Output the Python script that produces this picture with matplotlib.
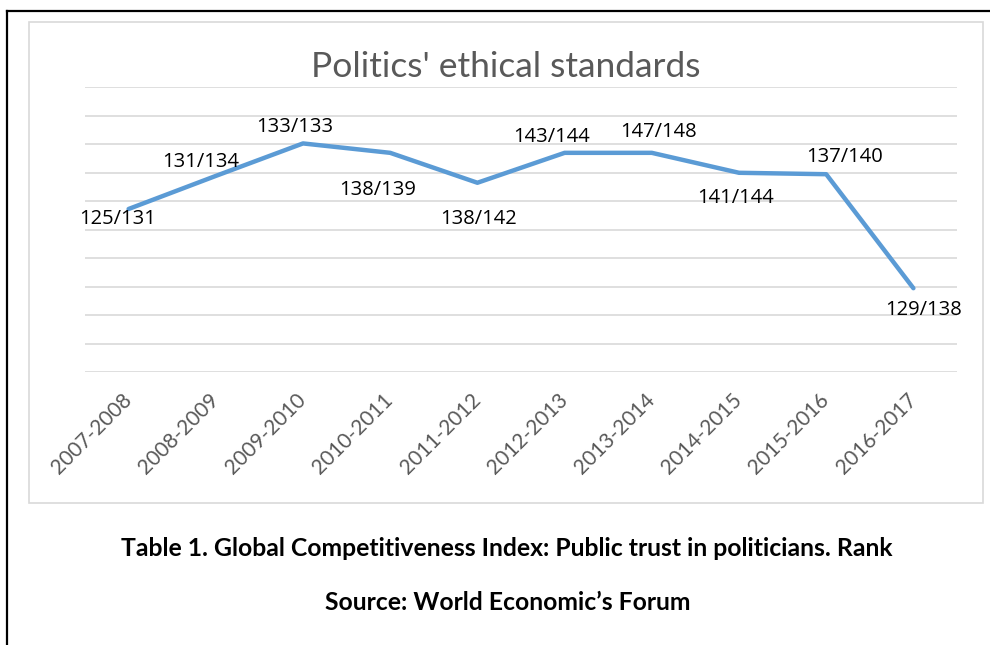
import matplotlib
matplotlib.use("Agg")
from matplotlib import pyplot as plt
from matplotlib.patches import Rectangle
from matplotlib.lines import Line2D

W, H = 990, 645

seasons = ["2007-2008", "2008-2009", "2009-2010", "2010-2011", "2011-2012",
           "2012-2013", "2013-2014", "2014-2015", "2015-2016", "2016-2017"]
# plotted level (axis has no labels, read against the 10 gridline steps)
levels = [5.72, 6.88, 8.02, 7.69, 6.64, 7.69, 7.69, 6.99, 6.94, 2.94]
rank_labels = ["125/131", "131/134", "133/133", "138/139", "138/142",
               "143/144", "147/148", "141/144", "137/140", "129/138"]

# where each data label sits relative to its point (pixels)
label_offsets = [(-11, -10), (-15, 14), (-8, 16), (-13, -37), (1, -36),
                 (-13, 16), (7, 21), (-3, -25), (18, 17), (10, -22)]

title = "Politics' ethical standards"
caption = "Table 1. Global Competitiveness Index: Public trust in politicians. Rank"
source = "Source: World Economic\u2019s Forum"


def fx(px):
    return px / W


def fy(py):
    return 1 - py / H


fig = plt.figure(figsize=(W / 100, H / 100), dpi=100)
fig.patch.set_facecolor("white")

# outer black frame (cropped at right and bottom)
fig.add_artist(Line2D([fx(7), fx(7)], [fy(11), fy(645)], color="black", lw=1.6))
fig.add_artist(Line2D([fx(7), fx(990)], [fy(11), fy(11)], color="black", lw=1.6))

# chart area border
fig.add_artist(Rectangle((fx(29), fy(503)), fx(983) - fx(29), fy(22) - fy(503),
                         fill=False, edgecolor="#D9D9D9", lw=1.2))

ax = fig.add_axes([fx(85), fy(372), fx(957) - fx(85), fy(87) - fy(372)])
ax.set_facecolor("none")
ax.set_xlim(-0.5, len(seasons) - 0.5)
ax.set_ylim(0, 10)
ax.set_yticks(range(0, 11))
ax.yaxis.grid(True, color="#D9D9D9", lw=1.2)
ax.set_axisbelow(True)
ax.tick_params(axis="y", length=0, labelleft=False)
for s in ax.spines.values():
    s.set_visible(False)

x = list(range(len(seasons)))
ax.plot(x, levels, color="#5B9BD5", lw=3.2, solid_capstyle="round",
        solid_joinstyle="round", zorder=3)

for xi, yi, lab, off in zip(x, levels, rank_labels, label_offsets):
    ax.annotate(lab, (xi, yi), xytext=off, textcoords="offset pixels",
                ha="center", va="center", fontsize=14.5, color="black",
                family="Open Sans", zorder=4)

ax.set_xticks(x)
ax.set_xticklabels(seasons, rotation=45, ha="right", va="center",
                   rotation_mode="anchor", fontsize=15, color="#595959",
                   family="Lato")
ax.tick_params(axis="x", length=0, pad=18)

fig.text(fx(506), fy(67), title, ha="center", va="center", fontsize=25.5,
         color="#595959", family="Lato")
fig.text(fx(507), fy(548), caption, ha="center", va="center", fontsize=17.8,
         color="black", family="Lato", fontweight="bold")
fig.text(fx(508), fy(603), source, ha="center", va="center", fontsize=17.8,
         color="black", family="Lato", fontweight="bold")

fig.savefig("out.png", dpi=100)
